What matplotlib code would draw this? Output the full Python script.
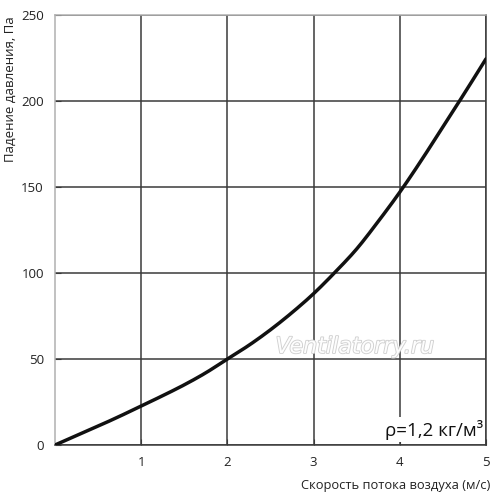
import matplotlib
matplotlib.use("Agg")
import matplotlib.pyplot as plt
import matplotlib.patheffects as pe
import numpy as np

speed = [0, 0.25, 0.5, 0.75, 1, 1.25, 1.5, 1.75, 2, 2.25, 2.5, 2.75, 3, 3.25, 3.5, 3.75, 4, 4.25, 4.5, 4.75, 5]
pressure = [0, 5.5, 11, 16.7, 22.7, 28.7, 35, 42, 50, 58, 67, 77, 88, 100.5, 114, 130, 147, 165.5, 185, 204.5, 224.5]
x_ticks = [1, 2, 3, 4, 5]
y_ticks = [0, 50, 100, 150, 200, 250]

plt.rcParams['font.family'] = ['Open Sans', 'DejaVu Sans']


def smooth(xs, ys, n=12):
    # Catmull-Rom rendering of the read points (drawing only)
    xs = np.asarray(xs, float); ys = np.asarray(ys, float)
    px = np.concatenate([[2 * xs[0] - xs[1]], xs, [2 * xs[-1] - xs[-2]]])
    py = np.concatenate([[2 * ys[0] - ys[1]], ys, [2 * ys[-1] - ys[-2]]])
    ox, oy = [], []
    t = np.linspace(0, 1, n, endpoint=False)
    for i in range(1, len(px) - 2):
        for arr, out in ((px, ox), (py, oy)):
            p0, p1, p2, p3 = arr[i - 1], arr[i], arr[i + 1], arr[i + 2]
            out.extend(0.5 * ((2 * p1) + (-p0 + p2) * t + (2 * p0 - 5 * p1 + 4 * p2 - p3) * t ** 2
                              + (-p0 + 3 * p1 - 3 * p2 + p3) * t ** 3))
    ox.append(xs[-1]); oy.append(ys[-1])
    return ox, oy


fig = plt.figure(figsize=(5, 4.96), dpi=100)
ax = fig.add_axes([0.11, 0.1028, 0.862, 0.867])
ax.set_xlim(0, 5)
ax.set_ylim(0, 250)
ax.set_xticks(x_ticks)
ax.set_yticks(y_ticks)
ax.grid(True, color='#3a3a3a', linewidth=1.1)
ax.set_axisbelow(True)
sx, sy = smooth(speed, pressure)
ax.plot(sx, sy, color='#111111', linewidth=2.5, solid_capstyle='round', zorder=3)

for s in ['left', 'top']:
    ax.spines[s].set_color('#b0b0b0')
for s in ['bottom', 'right']:
    ax.spines[s].set_color('#3a3a3a')
for s in ax.spines.values():
    s.set_linewidth(1.1)

ax.tick_params(axis='y', direction='in', length=4, color='#3a3a3a', labelsize=9.5, pad=8, labelcolor='#222222')
ax.tick_params(axis='x', direction='in', length=4, color='#3a3a3a', labelsize=9.5, pad=8, labelcolor='#222222')

ax.set_xlabel('Скорость потока воздуха (м/с)', fontsize=9.3, color='#222222', ha='right')
ax.xaxis.set_label_coords(1.009, -0.078)
ax.set_ylabel('Падение давления, Па', fontsize=9.5, color='#222222')
ax.yaxis.set_label_coords(-0.088, 0.828)

ax.text(3.48, 57, 'Ventilatorry.ru', fontsize=16, style='italic', color='#fdfdfd',
        ha='center', va='center', zorder=4, fontfamily='DejaVu Sans',
        path_effects=[pe.withStroke(linewidth=1.3, foreground='#d0d0d0')])

ax.text(4.97, 9, 'ρ=1,2 кг/м³', fontsize=13.5, color='#111111', ha='right', va='center', zorder=5,
        bbox=dict(facecolor='white', edgecolor='none', pad=1.5))

fig.savefig('out.png', dpi=100)
